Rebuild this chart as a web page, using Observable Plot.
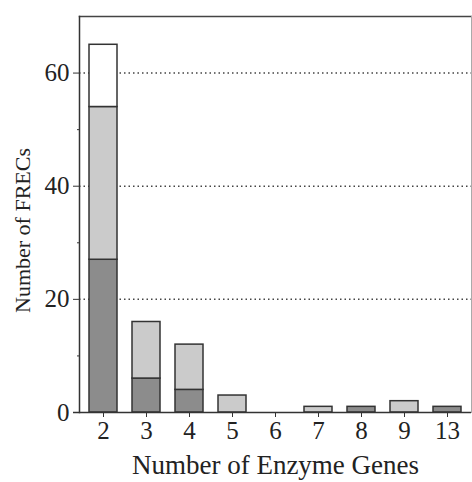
<!DOCTYPE html>
<html>
<head>
<meta charset="utf-8">
<script src="https://cdn.jsdelivr.net/npm/d3@7"></script>
<script src="https://cdn.jsdelivr.net/npm/@observablehq/plot@0.6"></script>
<style>
  body { margin: 0; background: #fff; }
  svg { display: block; }
</style>
</head>
<body>
<div id="chart"></div>
<script>
const categories = ["2", "3", "4", "5", "6", "7", "8", "9", "13"];
const darkCounts  = [27, 6, 4, 0, 0, 0, 1, 0, 1];
const lightCounts = [27, 10, 8, 3, 0, 1, 0, 2, 0];
const whiteCounts = [11, 0, 0, 0, 0, 0, 0, 0, 0];
const yMajorTicks = [0, 20, 40, 60];
const yMinorTicks = [10, 30, 50];
const gridValues = [20, 40, 60];

const segments = ["dark", "light", "white"];
const rows = [];
categories.forEach((c, i) => {
  [darkCounts[i], lightCounts[i], whiteCounts[i]].forEach((v, j) => {
    if (v > 0) rows.push({genes: c, seg: segments[j], count: v});
  });
});

const font = "'Liberation Serif', 'DejaVu Serif', serif";

const chart = Plot.plot({
  width: 472,
  height: 482,
  marginLeft: 79,
  marginTop: 16,
  marginRight: 1,
  marginBottom: 70,
  style: {fontFamily: font, fontSize: "24px", color: "#222", background: "#fff"},
  x: {domain: categories, paddingInner: 0.34, paddingOuter: 0.17, label: null},
  y: {domain: [0, 70], label: null},
  color: {domain: segments, range: ["#8c8c8c", "#cbcbcb", "#ffffff"]},
  marks: [
    Plot.ruleY(gridValues, {stroke: "#444", strokeWidth: 1.5, strokeDasharray: "1.5,3"}),
    Plot.barY(rows, {x: "genes", y: "count", fill: "seg", z: "seg", order: segments, stroke: "#333", strokeWidth: 1.5}),
    Plot.frame({anchor: "top", stroke: "#444", strokeWidth: 1.5}),
    Plot.frame({anchor: "right", stroke: "#aaa", strokeWidth: 1}),
    Plot.frame({anchor: "left", stroke: "#333", strokeWidth: 1.5}),
    Plot.ruleY([0], {stroke: "#333", strokeWidth: 1.5, insetLeft: -6}),
    Plot.axisY({ticks: yMajorTicks, tickSize: 6, tickPadding: 4, label: null, fontSize: 25, stroke: "#333"}),
    Plot.axisY({ticks: yMinorTicks, tickSize: 2, tickFormat: () => "", label: null, stroke: "#333"}),
    Plot.axisX({tickSize: 5, tickPadding: 4, label: null, fontSize: 25, stroke: "#333"}),
    Plot.text(["Number of Enzyme Genes"], {frameAnchor: "bottom", textAnchor: "middle", dx: 0, dy: 61, fontSize: 27, fill: "#222"}),
    Plot.text(["Number of FRECs"], {frameAnchor: "left", textAnchor: "middle", dx: -57, dy: 16, rotate: -90, fontSize: 22, fill: "#222"})
  ]
});

document.getElementById("chart").append(chart);
</script>
</body>
</html>
